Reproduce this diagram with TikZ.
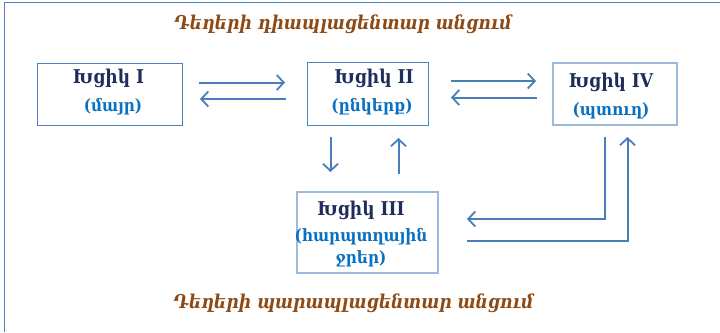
\documentclass[tikz,border=0pt]{standalone}
\usepackage{fontspec}
\setmainfont{DejaVu Serif Condensed}
\newfontfamily\armtitle{DejaVu Serif Condensed}[BoldItalicFont={* Bold Italic}]
\usetikzlibrary{arrows.meta}
\definecolor{frameblue}{HTML}{4F81BD}
\definecolor{arrowblue}{HTML}{4A7EBB}
\definecolor{navy}{HTML}{1F2D5C}
\definecolor{labelblue}{HTML}{0A70C0}
\definecolor{titlebrown}{HTML}{8E4A14}
\tikzset{
  chamber/.style={draw=frameblue, line width=0.9pt, fill=white},
  chamberfaint/.style={draw=frameblue!55, line width=1.1pt, fill=white},
  headtext/.style={font=\bfseries\fontsize{19}{21}\selectfont, text=navy, inner sep=0pt},
  subtext/.style={font=\bfseries\fontsize{17}{19}\selectfont, text=labelblue, inner sep=0pt},
  titletext/.style={font=\armtitle\bfseries\itshape\fontsize{19}{21}\selectfont, text=titlebrown, inner sep=0pt},
  flow/.style={draw=arrowblue, line width=2pt, -{Straight Barb[length=7pt,width=15pt,line width=1.8pt]}},
}
\begin{document}
\begin{tikzpicture}[x=1pt,y=-1pt]
\useasboundingbox (0,0) rectangle (720,332);
% outer frame: top and left edges only
\draw[frameblue, line width=1.5pt] (4.5,332) -- (4.5,2.5) -- (720,2.5);

% chambers
\path[chamber] (37,63) rectangle (182,125);
\path[chamber] (307,62) rectangle (428,125);
\path[chamberfaint] (553,63) rectangle (677,125);
\path[chamberfaint] (297,192) rectangle (438,273);

\node[headtext] (h1) at (108.5,78) {Խցիկ I};
\node[subtext]  (s1) at (113,107) {(մայր)};
\node[headtext] (h2) at (374,78) {Խցիկ II};
\node[subtext]  (s2) at (372,107) {(ընկերք)};
\node[headtext] (h4) at (611,82) {Խցիկ IV};
\node[subtext]  (s4) at (611,111) {(պտուղ)};
\node[headtext] (h3) at (361,210) {Խցիկ III};
\node[subtext]  (s3a) at (361,237) {(հարպտղային};
\node[subtext]  (s3b) at (361,259) {ջրեր)};

\node[titletext] (top) at (343,24) {Դեղերի դիապլացենտար անցում};
\node[titletext] (bot) at (353.5,303) {Դեղերի պարապլացենտար անցում};

% connector end points
\coordinate (a1) at (199,82.5);  \coordinate (a2) at (285,82.5);
\coordinate (b1) at (286,99);    \coordinate (b2) at (200,99);
\coordinate (c1) at (451,81);    \coordinate (c2) at (536,81);
\coordinate (d1) at (537,97.5);  \coordinate (d2) at (451,97.5);
\coordinate (e1) at (330.5,137); \coordinate (e2) at (330.5,172);
\coordinate (f1) at (398.5,174); \coordinate (f2) at (398.5,138);
\coordinate (g1) at (605,137);   \coordinate (g2) at (467,219);
\coordinate (k1) at (467,241);   \coordinate (k2) at (627.5,137);

\draw[flow] (a1) -- (a2);
\draw[flow] (b1) -- (b2);
\draw[flow] (c1) -- (c2);
\draw[flow] (d1) -- (d2);
\draw[flow] (e1) -- (e2);
\draw[flow] (f1) -- (f2);
\draw[flow] (g1) |- (g2);
\draw[flow] (k1) -| (k2);
\end{tikzpicture}
\end{document}
